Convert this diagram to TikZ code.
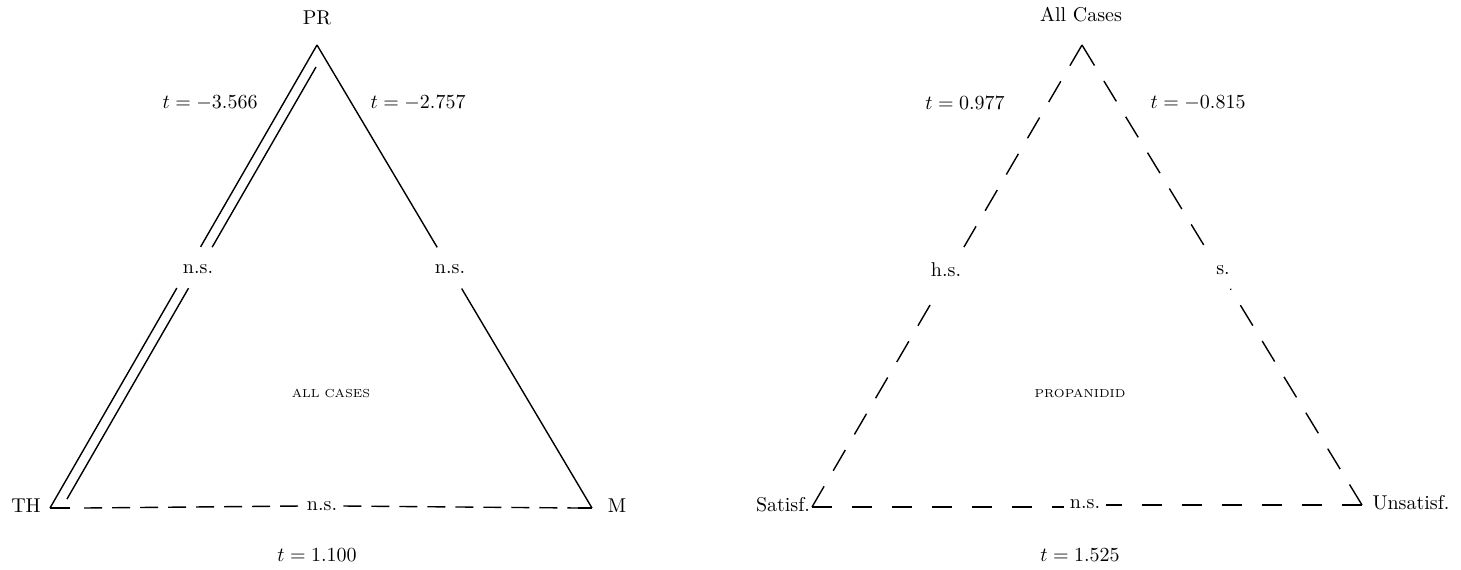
\documentclass[tikz,border=0pt]{standalone}
\begin{document}
\begin{tikzpicture}[x=0.5pt,y=-0.5pt,
  lbl/.style={font=\fontsize{10}{12}\selectfont, inner sep=0pt},
  caps/.style={font=\fontsize{5.8}{6}\selectfont, inner sep=0pt},
  solidedge/.style={line width=0.7pt},
  baseA/.style={line width=0.7pt, dash pattern=on 9pt off 5pt},
  sideB/.style={line width=0.7pt, dash pattern=on 12pt off 9pt},
  baseB/.style={line width=0.7pt, dash pattern=on 10pt off 10pt},
  gapnode/.style={lbl, fill=white, inner sep=3pt}]
\useasboundingbox (0,0) rectangle (1461,569);
% ---------------- left triangle ----------------
\coordinate (PRc) at (317,45);
\coordinate (THc) at (50,508);
\coordinate (Mc) at (592,508);
\coordinate (Ia) at (316,67);
\coordinate (Ib) at (67,499);
\node[lbl] (PR) at (317,18) {PR};
\node[lbl] (TH) at (26,506) {TH};
\node[lbl] (M) at (617,506) {M};
\node[lbl] (tL1) at (210,103) {$t = -3.566$};
\node[lbl] (tL2) at (418,103) {$t = -2.757$};
\node[lbl] (nsL1) at (198,269) {n.s.};
\node[lbl] (nsL2) at (450,269) {n.s.};
\node[caps] (allc) at (331,393) {ALL CASES};
\node[lbl] (tL3) at (317,555) {$t = 1.100$};
% left side: double line with gap
\path (PRc) -- (THc) coordinate[pos=0.436] (oa) coordinate[pos=0.525] (ob);
\path (Ia) -- (Ib) coordinate[pos=0.417] (ia) coordinate[pos=0.512] (ib);
\draw[solidedge] (PRc) -- (oa) (ob) -- (THc);
\draw[solidedge] (Ia) -- (ia) (ib) -- (Ib);
% right side
\path (PRc) -- (Mc) coordinate[pos=0.437] (ra) coordinate[pos=0.526] (rb);
\draw[solidedge] (PRc) -- (ra) (rb) -- (Mc);
% base
\path (THc) -- (Mc) coordinate[pos=0.037] (bt) coordinate[pos=0.974] (bm);
\draw[solidedge] (THc) -- (bt);
\draw[solidedge] (bm) -- (Mc);
\node[gapnode] (nsL3) at (322,506) {n.s.};
\draw[baseA] (bt) ++(14,0) coordinate (bt2) (bt2) -- (nsL3.west);
\draw[baseA] (nsL3.east) -- (bm);
% ---------------- right triangle ----------------
\coordinate (ACc) at (1082,45);
\coordinate (Sc) at (812,507);
\coordinate (Uc) at (1362,505);
\node[lbl] (AC) at (1081,15) {All Cases};
\node[lbl] (S) at (783,505) {Satisf.};
\node[lbl] (U) at (1411,503) {Unsatisf.};
\node[lbl] (tR1) at (965,103) {$t = 0.977$};
\node[lbl] (tR2) at (1198,103) {$t = -0.815$};
\node[lbl] (hs) at (946,270) {h.s.};
\node[lbl] (ss) at (1223,270) {s.};
\node[caps] (prop) at (1080,393) {PROPANIDID};
\node[lbl] (tR3) at (1080,555) {$t = 1.525$};
% left side
\path (ACc) -- (Sc) coordinate[pos=0.445] (la) coordinate[pos=0.53] (lb);
\draw[sideB] (ACc) -- (la);
\draw[sideB] (Sc) -- (lb);
% right side
\path (ACc) -- (Uc) coordinate[pos=0.445] (sa) coordinate[pos=0.53] (sb);
\draw[sideB] (ACc) -- (sa);
\draw[sideB] (Uc) -- (sb);
% base
\node[gapnode] (nsR) at (1085,504) {n.s.};
\draw[baseB] (Sc) -- (Sc -| nsR.west);
\draw[baseB] (Uc) -- (Uc -| nsR.east);
\end{tikzpicture}
\end{document}
